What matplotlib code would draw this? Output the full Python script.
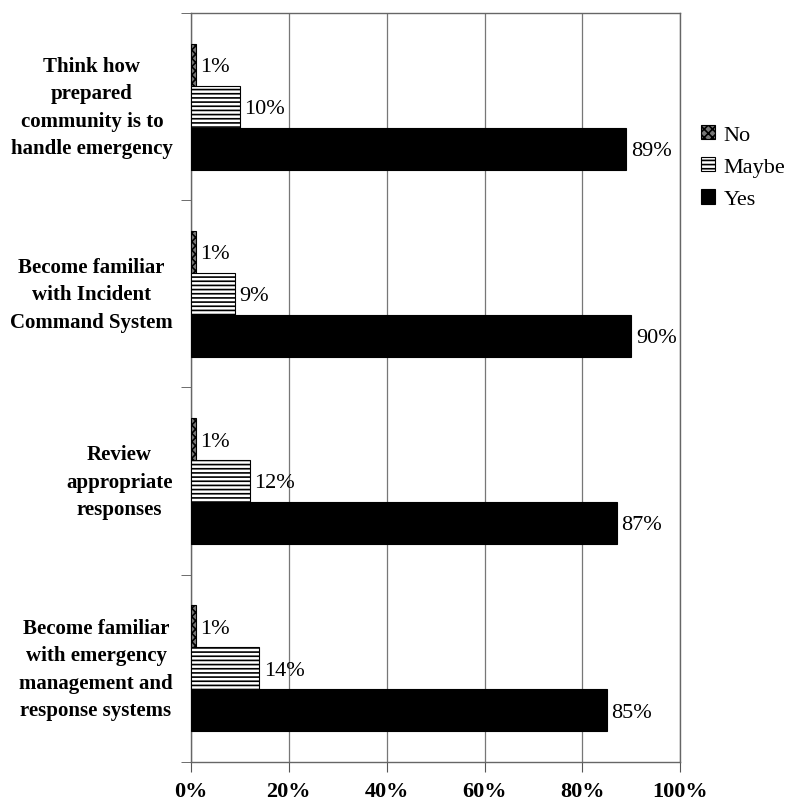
import matplotlib
matplotlib.use("Agg")
import matplotlib.pyplot as plt
import numpy as np

categories = ["Think how\nprepared\ncommunity is to\nhandle emergency",
              "Become familiar\nwith Incident\nCommand System",
              "Review\nappropriate\nresponses",
              "Become familiar\nwith emergency\nmanagement and\nresponse systems"]
series = ["No", "Maybe", "Yes"]
no_vals = [1, 1, 1, 1]
maybe_vals = [10, 9, 12, 14]
yes_vals = [89, 90, 87, 85]

plt.rcParams['font.family'] = ['Liberation Serif', 'DejaVu Serif']
plt.rcParams['hatch.linewidth'] = 1.2

fig = plt.figure(figsize=(7.92, 8.04), dpi=100)
ax = fig.add_axes([0.241, 0.051, 0.618, 0.9316])

y = np.arange(len(categories))
h = 0.224
styles = [dict(facecolor='#777777', hatch='xxxx'),
          dict(facecolor='white', hatch='----'),
          dict(facecolor='black', hatch=None)]
for k, (vals, st) in enumerate(zip([no_vals, maybe_vals, yes_vals], styles)):
    b = ax.barh(y + (k - 1) * h, vals, height=h, edgecolor='black', linewidth=0.8,
                label=series[k], zorder=3, **st)
    for rect, v in zip(b, vals):
        ax.text(rect.get_width() + 0.9, rect.get_y() + rect.get_height() / 2 + 0.01,
                f"{v}%", va='center', ha='left', fontsize=16, zorder=4)

ax.set_xlim(0, 100)
ax.set_ylim(-0.5, 3.5)
ax.invert_yaxis()
ax.set_xticks(np.arange(0, 101, 20))
ax.set_xticklabels([f"{t}%" for t in range(0, 101, 20)], fontsize=16, fontweight='bold')
ax.set_yticks(y - 0.03)
ax.set_yticklabels(categories, fontsize=15, fontweight='bold', linespacing=1.5)
for lab in ax.get_yticklabels():
    lab.set_multialignment('center')
ax.set_yticks(np.arange(-0.5, 4.0, 1.0), minor=True)
ax.tick_params(axis='y', which='major', length=0, pad=13)
ax.tick_params(axis='y', which='minor', length=7, color='#555555')
ax.tick_params(axis='x', length=7, pad=7, color='#555555')

ax.grid(axis='x', color='#777777', linewidth=0.9, zorder=0)
for s in ax.spines.values():
    s.set_color('#666666')
    s.set_linewidth(1.0)

ax.legend(loc='upper left', bbox_to_anchor=(1.025, 0.862), frameon=False,
          fontsize=16, handlelength=0.6, handleheight=0.6, handletextpad=0.4,
          labelspacing=0.55, borderaxespad=0)

fig.savefig("out.png", dpi=100)
